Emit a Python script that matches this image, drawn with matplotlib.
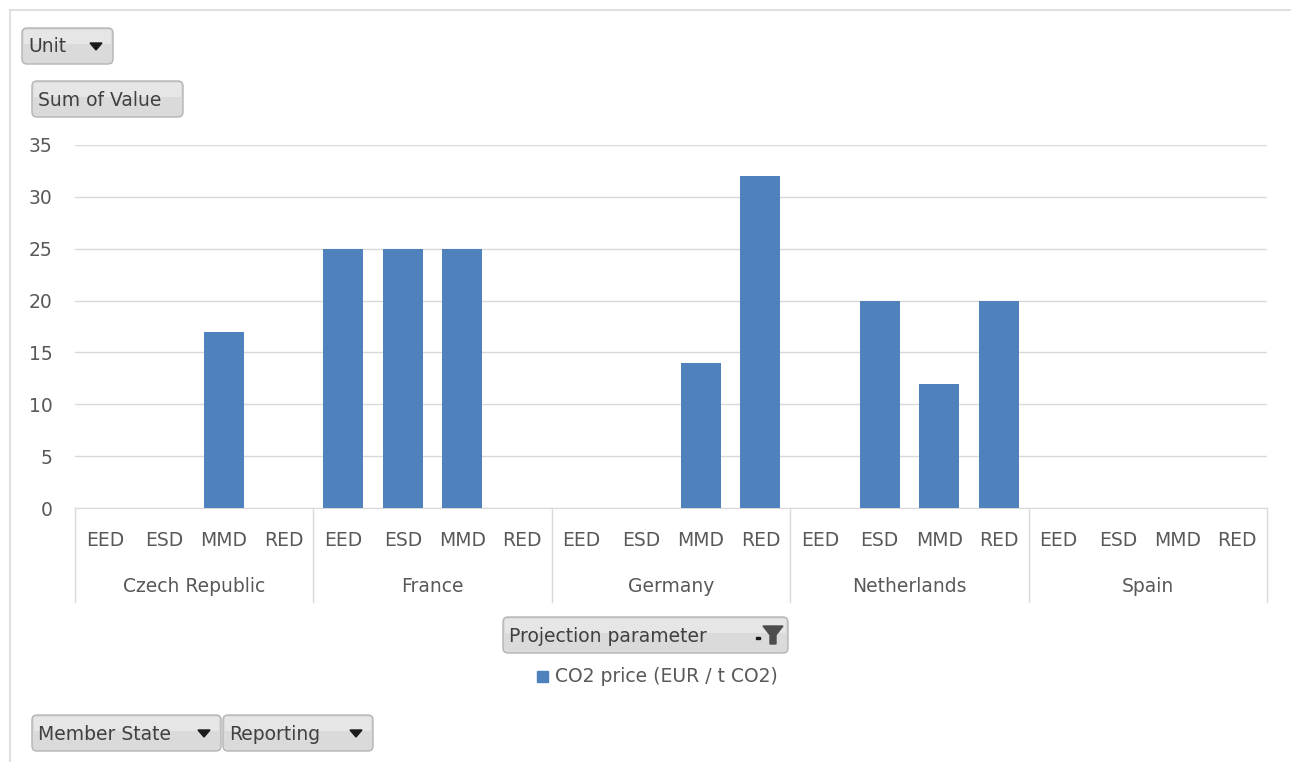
import matplotlib.pyplot as plt
from matplotlib.patches import FancyBboxPatch, Polygon, Rectangle
import numpy as np

plt.rcParams["font.family"] = ["DejaVu Sans"]

# data
countries = ["Czech Republic", "France", "Germany", "Netherlands", "Spain"]
reports = ["EED", "ESD", "MMD", "RED"]
co2_price = [
    [0, 0, 17, 0],   # Czech Republic
    [25, 25, 25, 0],  # France
    [0, 0, 14, 32],   # Germany
    [0, 20, 12, 20],  # Netherlands
    [0, 0, 0, 0],     # Spain
]
yticks = [0, 5, 10, 15, 20, 25, 30, 35]

W, H = 1295, 762
bar_color = "#4f81bd"
text_color = "#595959"
grid_color = "#d9d9d9"
fs = 13.5

fig = plt.figure(figsize=(W / 100, H / 100), dpi=100)
fig.set_facecolor("w")

# main plot area in pixel terms
x0, x1, ytop, ybot = 75, 1267, 145, 508
ax = fig.add_axes([x0 / W, 1 - ybot / H, (x1 - x0) / W, (ybot - ytop) / H])

values = np.array(co2_price).ravel()
xpos = np.arange(len(values))
ax.bar(xpos, values, width=0.67, color=bar_color, zorder=3)

ax.set_xlim(-0.5, len(values) - 0.5)
ax.set_ylim(0, 35)
ax.set_yticks(yticks)
ax.yaxis.grid(True, color=grid_color, linewidth=1)
ax.set_axisbelow(True)
for s in ["top", "right", "left"]:
    ax.spines[s].set_visible(False)
ax.spines["bottom"].set_color(grid_color)
ax.tick_params(axis="y", length=0, pad=16, labelsize=fs, labelcolor=text_color)
ax.tick_params(axis="x", length=0, labelbottom=False)

# two-level category labels
ppu = (ybot - ytop)  # axes height in px
trans = ax.get_xaxis_transform()
for gi, country in enumerate(countries):
    for ri, rep in enumerate(reports):
        ax.text(gi * 4 + ri, -(540 - ybot) / ppu, rep, transform=trans,
                ha="center", va="center", fontsize=fs, color=text_color,
                clip_on=False)
    ax.text(gi * 4 + 1.5, -(586 - ybot) / ppu, country, transform=trans,
            ha="center", va="center", fontsize=fs, color=text_color,
            clip_on=False)
for b in range(len(countries) + 1):
    ax.plot([b * 4 - 0.5, b * 4 - 0.5], [0, -(602 - ybot) / ppu],
            transform=trans, color=grid_color, linewidth=1, clip_on=False)

# overlay in pixel coordinates for frame and pivot buttons
ov = fig.add_axes([0, 0, 1, 1], facecolor="none")
ov.set_xlim(0, W)
ov.set_ylim(H, 0)
ov.axis("off")

ov.plot([10, 1290], [10, 10], color="#d9d9d9", linewidth=1.2)
ov.plot([10, 10], [10, H], color="#d9d9d9", linewidth=1.2)


def button(xa, ya, xb, yb, label, arrow=False, funnel=False):
    ov.add_patch(FancyBboxPatch((xa, ya), xb - xa, yb - ya,
                                boxstyle="round,pad=0,rounding_size=5",
                                facecolor="#dadada", edgecolor="#b4b4b4",
                                linewidth=1))
    ov.add_patch(Rectangle((xa + 2, ya + 2), xb - xa - 4, (yb - ya) * 0.4,
                           facecolor="#e6e6e6", edgecolor="none"))
    ov.text(xa + 6, (ya + yb) / 2 + 1, label, ha="left", va="center",
            fontsize=fs, color="#404040")
    if arrow:
        cx, cy = xb - 17, (ya + yb) / 2
        ov.add_patch(Polygon([[cx - 6, cy - 3], [cx + 6, cy - 3], [cx, cy + 4]],
                             closed=True, color="#1a1a1a"))
    if funnel:
        cx, cy = xb - 15, (ya + yb) / 2
        ov.add_patch(Polygon([[cx - 10, cy - 9], [cx + 10, cy - 9], [cx + 3, cy],
                              [cx + 3, cy + 9], [cx - 3, cy + 9], [cx - 3, cy]],
                             closed=True, color="#4d4d4d"))
        ov.add_patch(Rectangle((cx - 17, cy + 2), 4, 2, color="#1a1a1a"))


button(22, 28, 113, 64, "Unit", arrow=True)
button(32, 81, 183, 117, "Sum of Value")
button(503, 617, 788, 653, "Projection parameter", funnel=True)
button(32, 715, 221, 751, "Member State", arrow=True)
button(223, 715, 373, 751, "Reporting", arrow=True)

# legend
ov.add_patch(Rectangle((537, 671), 11, 11, color=bar_color))
ov.text(555, 677, "CO2 price (EUR / t CO2)", ha="left", va="center",
        fontsize=fs, color=text_color)

plt.savefig("out.png", dpi=100)
